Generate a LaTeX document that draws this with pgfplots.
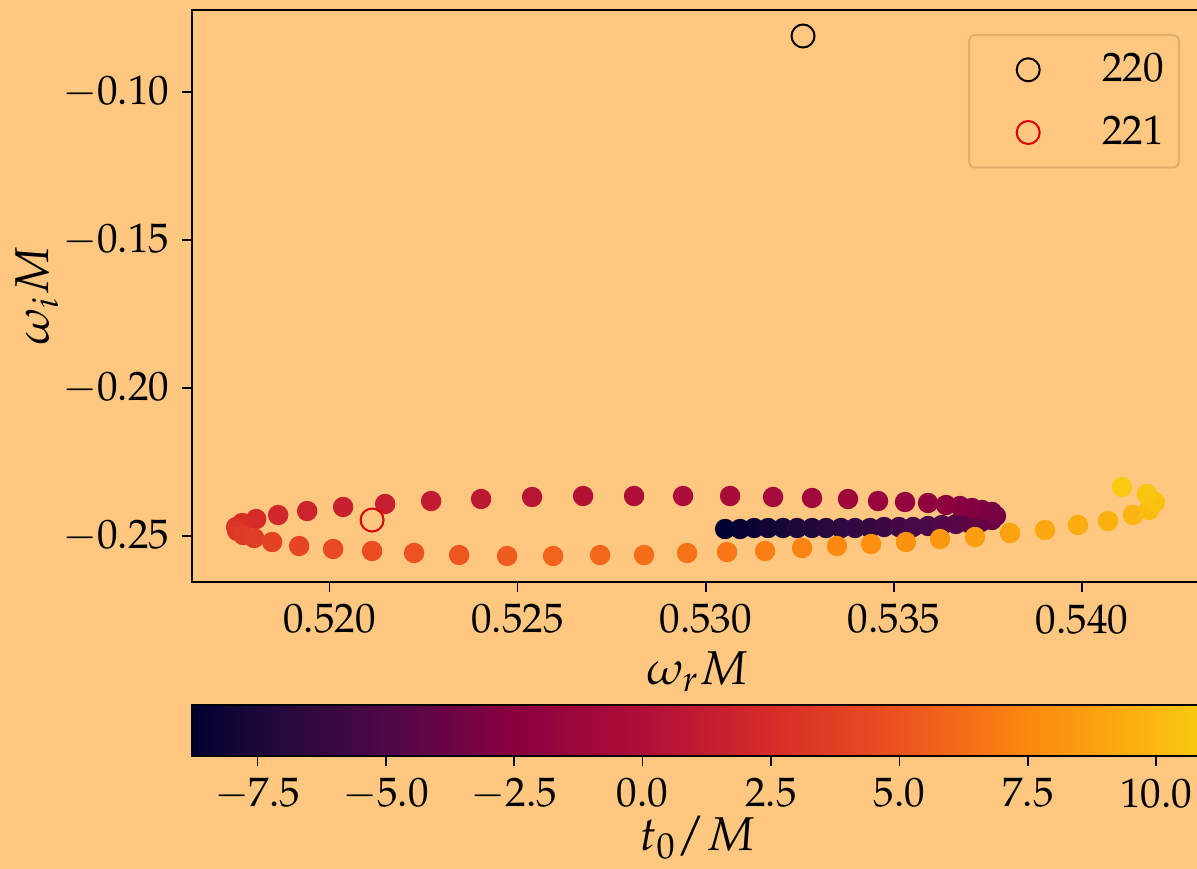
\documentclass[border=0pt]{standalone}
\usepackage{mathpazo}
\usepackage{pgfplots}
\usepackage{pgfplotstable}
\pgfplotsset{compat=1.18}
\definecolor{bg}{RGB}{255,199,128}
\definecolor{legred}{RGB}{220,0,0}
\definecolor{legedge}{RGB}{225,175,108}

\pgfplotstableread{
x y t
0.530513 -0.247568 -8.780
0.530911 -0.247568 -8.521
0.531283 -0.247230 -8.262
0.531655 -0.247230 -8.003
0.532054 -0.247230 -7.744
0.532426 -0.247230 -7.485
0.532824 -0.247230 -7.226
0.533196 -0.247230 -6.967
0.533595 -0.247230 -6.708
0.533966 -0.247230 -6.449
0.534365 -0.247230 -6.190
0.534737 -0.246890 -5.931
0.535135 -0.246890 -5.672
0.535507 -0.246890 -5.413
0.535906 -0.246554 -5.154
0.536278 -0.246216 -4.895
0.536650 -0.245878 -4.636
0.536995 -0.245540 -4.377
0.537314 -0.245203 -4.118
0.537606 -0.244527 -3.859
0.537712 -0.243176 -3.600
0.537606 -0.241824 -3.341
0.537341 -0.241150 -3.082
0.537075 -0.240473 -2.823
0.536756 -0.239797 -2.564
0.536384 -0.239460 -2.305
0.535906 -0.238784 -2.046
0.535295 -0.238446 -1.787
0.534578 -0.238108 -1.528
0.533780 -0.237432 -1.269
0.532824 -0.237095 -1.010
0.531788 -0.236757 -0.751
0.530646 -0.236419 -0.492
0.529397 -0.236419 -0.233
0.528095 -0.236419 0.026
0.526740 -0.236419 0.285
0.525385 -0.236757 0.544
0.524030 -0.237432 0.803
0.522702 -0.238108 1.062
0.521480 -0.239122 1.321
0.520364 -0.240135 1.580
0.519408 -0.241486 1.839
0.518637 -0.242838 2.098
0.518053 -0.244189 2.357
0.517681 -0.245540 2.616
0.517521 -0.246890 2.875
0.517548 -0.248243 3.134
0.517707 -0.249595 3.393
0.517999 -0.250608 3.652
0.518478 -0.251960 3.911
0.519195 -0.253311 4.170
0.520098 -0.254324 4.429
0.521134 -0.255000 4.688
0.522250 -0.255676 4.947
0.523446 -0.256351 5.206
0.524721 -0.256689 5.465
0.525943 -0.256689 5.724
0.527192 -0.256351 5.983
0.528361 -0.256351 6.242
0.529503 -0.255676 6.501
0.530566 -0.255338 6.760
0.531576 -0.255000 7.019
0.532558 -0.253986 7.278
0.533488 -0.253311 7.537
0.534392 -0.252635 7.796
0.535321 -0.251960 8.055
0.536225 -0.250946 8.314
0.537155 -0.250270 8.573
0.538084 -0.248919 8.832
0.539014 -0.247905 9.091
0.539891 -0.246216 9.350
0.540688 -0.244865 9.609
0.541352 -0.242838 9.868
0.541777 -0.241150 10.127
0.541937 -0.238446 10.386
0.541724 -0.235743 10.645
0.541060 -0.233378 10.904
}\pathdata

\pgfplotsset{
  every axis/.append style={
    tick align=outside,
    major tick length=0.1cm,
    tick style={line width=0.45pt, black},
    axis line style={line width=0.55pt, black},
    tick label style={font=\fontsize{11.7}{14}\selectfont},
    label style={font=\fontsize{13.5}{16}\selectfont},
  },
}

\begin{document}
\begin{tikzpicture}
\path[use as bounding box, fill=bg] (0,0) rectangle (11.97cm,-8.69cm);
\begin{axis}[
  at={(1.917cm,-5.82cm)}, anchor=south west,
  scale only axis, width=10.108cm, height=5.72cm,
  xmin=0.51634, xmax=0.5432, ymin=-0.26547, ymax=-0.07223,
  xtick={0.520,0.525,0.530,0.535,0.540},
  ytick={-0.25,-0.20,-0.15,-0.10},
  scaled ticks=false,
  xticklabel style={/pgf/number format/.cd, fixed, fixed zerofill, precision=3},
  yticklabel style={/pgf/number format/.cd, fixed, fixed zerofill, precision=2},
  tick pos=left,
  xlabel={$\omega_r M$}, ylabel={$\omega_i M$},
  xlabel style={at={(axis description cs:0.5,-0.157)}, anchor=center},
  ylabel style={at={(axis description cs:-0.153,0.5)}, anchor=center},
  colormap={tint}{rgb255(0pt)=(0,0,48); rgb255(128pt)=(28,8,58); rgb255(378pt)=(78,8,72); rgb255(628pt)=(138,0,64); rgb255(878pt)=(176,14,56); rgb255(1128pt)=(214,44,40); rgb255(1378pt)=(236,82,32); rgb255(1628pt)=(252,136,16); rgb255(1878pt)=(252,184,16); rgb255(1968pt)=(248,202,16)},
  point meta min=-8.78, point meta max=10.9,
  colorbar horizontal,
  colorbar style={
    at={(parent axis.south west)}, anchor=north west, yshift=-0.93cm,
    scale only axis, width=10.108cm, height=0.51cm,
    xtick={-7.5,-5,-2.5,0,2.5,5,7.5,10},
    xticklabel style={/pgf/number format/.cd, fixed, fixed zerofill, precision=1},
    xtick pos=left, xticklabel pos=left, ytick=\empty,
    xlabel={$t_0/M$},
    xlabel style={at={(axis description cs:0.5,-1.6)}, anchor=center},
  },
  legend style={
    at={(0.9778,0.958)}, anchor=north east,
    fill=bg, draw=legedge, line width=0.6pt, rounded corners=0.06cm,
    font=\fontsize{11.7}{14}\selectfont,
    inner xsep=0.08cm, inner ysep=0.11cm, row sep=0.15cm,
    cells={anchor=west},
  },
  legend image code/.code={\path (0,0) (1.16cm,0); \draw[#1] plot coordinates {(0.5cm,0cm)};},
]
\addplot[scatter, only marks, mark=*, mark size=0.095cm, scatter src=explicit,
  scatter/use mapped color={draw=mapped color, fill=mapped color}, forget plot]
  table[x=x, y=y, meta=t] {\pathdata};
\addplot[mark=o, mark size=0.115cm, black, mark options={line width=0.02cm}]
  coordinates {(0.532585,-0.08101)};
\addlegendentry{$220$}
\addplot[mark=o, mark size=0.115cm, legred, mark options={line width=0.02cm}]
  coordinates {(0.521134,-0.244527)};
\addlegendentry{$221$}
\end{axis}
\end{tikzpicture}
\end{document}
